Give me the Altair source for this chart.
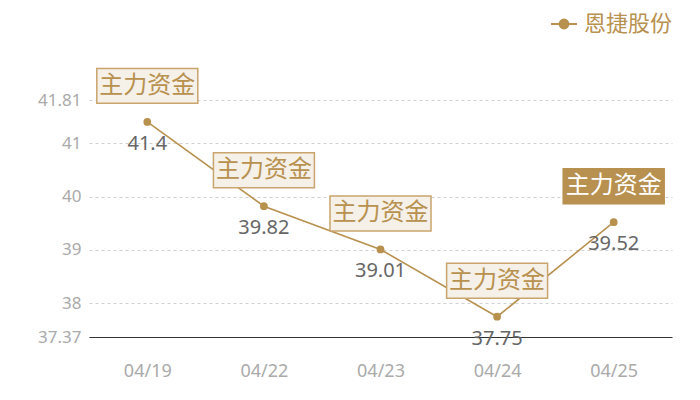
import altair as alt
import pandas as pd

dates = ["04/19", "04/22", "04/23", "04/24", "04/25"]
values = [41.4, 39.82, 39.01, 37.75, 39.52]
notes = ["主力资金", "主力资金", "主力资金", "主力资金", "主力资金"]
highlight = [False, False, False, False, True]
series = "恩捷股份"
y_ticks = [37.37, 38, 39, 40, 41, 41.81]

df = pd.DataFrame({"date": dates, "value": values, "note": notes,
                   "hl": highlight, "series": [series] * len(dates)})

GOLD = "#b8914f"
FONT = "Noto Sans CJK SC"
NUM_FONT = "Noto Sans"

x = alt.X("date:N", sort=dates, title=None,
          scale=alt.Scale(type="point", padding=0.5),
          axis=alt.Axis(labelAngle=0, ticks=False, grid=False, domainColor="#333333",
                        domainWidth=1.2, labelColor="#aaaaaa", labelFontSize=18,
                        labelPadding=25, labelFont=NUM_FONT))
y = alt.Y("value:Q", title=None,
          scale=alt.Scale(domain=[37.37, 41.81], nice=False, zero=False),
          axis=alt.Axis(values=y_ticks, format=".4~r", domain=False, ticks=False,
                        gridDash=[3, 3], gridColor="#d0d0d0", labelColor="#aaaaaa",
                        labelFontSize=17, labelPadding=8, labelFont=NUM_FONT))

color = alt.Color("series:N", title=None,
                  scale=alt.Scale(range=[GOLD]),
                  legend=alt.Legend(orient="none", legendX=461, legendY=-90,
                                    symbolType="M-1,0L1,0M-0.34,0A0.34,0.34 0 1,1 0.34,0A0.34,0.34 0 1,1 -0.34,0Z",
                                    symbolSize=676, symbolStrokeWidth=2,
                                    symbolFillColor=GOLD, symbolStrokeColor=GOLD,
                                    labelFontSize=22, labelColor=GOLD, labelFont=FONT,
                                    labelOffset=6))

base = alt.Chart(df)

line = base.mark_line(strokeWidth=1.6).encode(x=x, y=y, color=color)
pts = base.mark_circle(size=60, opacity=1, color=GOLD).encode(x=x, y=y)
vals = base.mark_text(dy=22, fontSize=20, color="#666666", font=NUM_FONT).encode(
    x=x, y=y, text="value:Q")

box_path = "M-1,-0.345L1,-0.345L1,0.345L-1,0.345Z"
boxes = base.mark_point(shape=box_path, size=10201, filled=True, opacity=1,
                        strokeWidth=1.5, yOffset=-36).encode(
    x=x, y=y,
    fill=alt.condition(alt.datum.hl, alt.value("#b8904f"), alt.value("#f5f0e8")),
    stroke=alt.condition(alt.datum.hl, alt.value("#b8904f"), alt.value("#c9a46c")))
box_txt = base.mark_text(dy=-36, fontSize=24, font=FONT, baseline="middle").encode(
    x=x, y=y, text="note:N",
    color=alt.condition(alt.datum.hl, alt.value("#ffffff"), alt.value(GOLD)))

chart = alt.layer(line, pts, vals, boxes, box_txt).properties(
    width=583, height=237,
    autosize=alt.AutoSizeParams(type="none"),
    padding={"left": 81, "top": 92, "right": 20, "bottom": 55},
).configure_view(stroke=None)

chart.save("out.html", embed_options={"renderer": "svg", "actions": False})
